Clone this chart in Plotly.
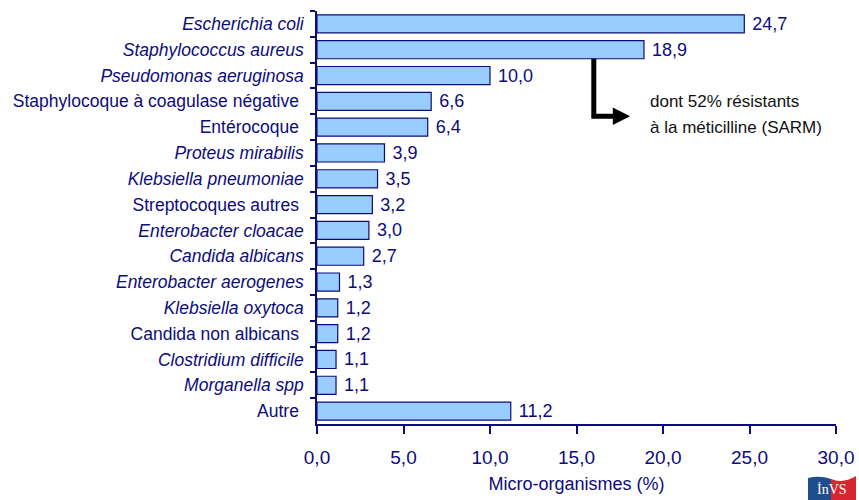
import plotly.graph_objects as go

# Micro-organisms isolated in nosocomial infections (% of all isolates)
organismes = [
    "Escherichia coli",
    "Staphylococcus aureus",
    "Pseudomonas aeruginosa",
    "Staphylocoque à coagulase négative",
    "Entérocoque",
    "Proteus mirabilis",
    "Klebsiella pneumoniae",
    "Streptocoques autres",
    "Enterobacter cloacae",
    "Candida albicans",
    "Enterobacter aerogenes",
    "Klebsiella oxytoca",
    "Candida non albicans",
    "Clostridium difficile",
    "Morganella spp",
    "Autre",
]
pourcentages = [24.7, 18.9, 10.0, 6.6, 6.4, 3.9, 3.5, 3.2, 3.0, 2.7, 1.3, 1.2, 1.2, 1.1, 1.1, 11.2]
italique = [True, True, True, False, False, True, True, False, True, True, True, True, False, True, True, False]
x_ticks = [0, 5, 10, 15, 20, 25, 30]

NAVY = "#0c0c7a"
FONT = "Liberation Sans, Arial, sans-serif"

labels = [f"<i>{n}</i>" if it else n + " " for n, it in zip(organismes, italique)]

fig = go.Figure(
    go.Bar(
        x=pourcentages,
        y=labels,
        orientation="h",
        width=0.7,
        marker=dict(color="#99ccff", line=dict(color=NAVY, width=1.2)),
        texttemplate=" %{x:.1f}",
        textposition="outside",
        constraintext="none",
        textfont=dict(family=FONT, size=18, color=NAVY),
        cliponaxis=False,
        hoverinfo="skip",
    )
)

L, R, T, B = 317, 23, 11, 76
W, H = 859, 500
pw, ph = W - L - R, H - T - B


def px(x):
    return (x - L) / pw


def py(y):
    return (H - B - y) / ph


shapes = [
    # elbow connector from the Staphylococcus aureus bar
    dict(type="path", xref="x", yref="y",
         path="M 16.0,1.35 L 16.0,3.58 L 17.2,3.58",
         line=dict(color="black", width=5)),
    dict(type="path", xref="x", yref="y",
         path="M 17.1,3.24 L 18.1,3.58 L 17.1,3.92 Z",
         fillcolor="black", line=dict(color="black", width=0)),
    # InVS logo: blue and red flag halves
    dict(type="path", xref="paper", yref="paper",
         path=f"M {px(808)},{py(500)} L {px(808)},{py(478)} Q {px(820)},{py(475)} {px(831)},{py(479)} L {px(831)},{py(500)} Z",
         fillcolor="#1f4e8c", line=dict(width=0)),
    dict(type="path", xref="paper", yref="paper",
         path=f"M {px(831)},{py(500)} L {px(831)},{py(479)} Q {px(843)},{py(484)} {px(856)},{py(476)} L {px(856)},{py(500)} Z",
         fillcolor="#d9252f", line=dict(width=0)),
]

annotations = [
    dict(x=px(648), y=py(102), xref="paper", yref="paper", xanchor="left", yanchor="middle",
         text="dont 52% résistants", showarrow=False,
         font=dict(family=FONT, size=17, color="#111111")),
    dict(x=px(648), y=py(128), xref="paper", yref="paper", xanchor="left", yanchor="middle",
         text="à la méticilline (SARM)", showarrow=False,
         font=dict(family=FONT, size=17, color="#111111")),
    dict(x=px(832), y=py(490), xref="paper", yref="paper", xanchor="center", yanchor="middle",
         text="İnVS", showarrow=False,
         font=dict(family="Liberation Serif, serif", size=14, color="white")),
]

fig.update_layout(
    width=W, height=H,
    margin=dict(l=L, r=R, t=T, b=B, autoexpand=False),
    plot_bgcolor="white", paper_bgcolor="white",
    separators=", ",
    showlegend=False,
    font=dict(family=FONT, color=NAVY),
    shapes=shapes,
    annotations=annotations,
    xaxis=dict(
        range=[0, 30], tickvals=x_ticks, tickformat=".1f",
        showgrid=False, zeroline=False,
        showline=True, linecolor=NAVY, linewidth=1.5,
        ticks="outside", ticklen=8, tickcolor=NAVY, tickwidth=1.5,
        ticklabelstandoff=7,
        tickfont=dict(family=FONT, size=19, color=NAVY),
        title=dict(text="Micro-organismes (%)", standoff=11,
                   font=dict(family=FONT, size=18, color=NAVY)),
    ),
    yaxis=dict(
        type="category", range=[15.5, -0.5],
        showgrid=False, zeroline=False,
        showline=True, linecolor=NAVY, linewidth=1.5,
        ticks="outside", tickson="boundaries", ticklen=5, tickcolor=NAVY, tickwidth=1.5,
        ticklabelstandoff=8,
        tickfont=dict(family=FONT, size=17.5, color=NAVY),
    ),
)

fig.write_html("out.html")
